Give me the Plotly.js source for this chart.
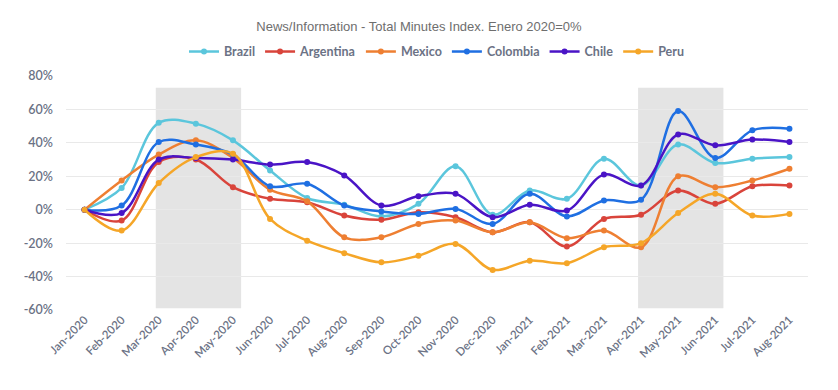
<!DOCTYPE html>
<html>
<head>
<meta charset="utf-8">
<script src="https://cdn.plot.ly/plotly-3.0.1.min.js"></script>
<style>html,body{margin:0;padding:0;background:#fff;}#chart{width:838px;height:390px;}</style>
</head>
<body>
<div id="chart"></div>
<script>
const months = ["Jan-2020","Feb-2020","Mar-2020","Apr-2020","May-2020","Jun-2020","Jul-2020","Aug-2020","Sep-2020","Oct-2020","Nov-2020","Dec-2020","Jan-2021","Feb-2021","Mar-2021","Apr-2021","May-2021","Jun-2021","Jul-2021","Aug-2021"];
const brazil    = [0, 13, 52, 51.5, 41.5, 23.5, 7, 3, -4, 3.5, 26, -3, 11.5, 6.5, 30.5, 14.5, 39, 28, 30.5, 31.5];
const argentina = [0, -6.5, 28.5, 30, 13.5, 6.5, 4.5, -3.5, -6, -1.5, -4.5, -13.5, -7.5, -22, -5.5, -3, 11.5, 3.5, 14, 14.5];
const mexico    = [0, 17.5, 33, 41.5, 31, 12, 5, -16.5, -16.5, -8.5, -6.5, -13.5, -7.5, -17, -12.5, -22.5, 20, 13.5, 17.5, 24.5];
const colombia  = [0, 2.5, 40.5, 39, 33, 14, 15.5, 2.5, -1, -2.5, 0.5, -8.5, 9.5, -4, 5.5, 6, 59, 31, 47.5, 48.5];
const chile     = [0, -2, 30, 31, 30, 27, 28.5, 20.5, 2.5, 8, 9.5, -4.5, 3, -0.5, 21, 14.5, 45, 38.5, 42, 40.5];
const peru      = [0, -12.5, 16, 31.5, 33.5, -5.5, -18.5, -26, -31.5, -27.5, -20.5, -36, -30.5, -32, -22.5, -20, -2, 9.5, -3.5, -2.5];
const yTicks = [-60, -40, -20, 0, 20, 40, 60, 80];
const yTickLabels = ["-60%", "-40%", "-20%", "0%", "20%", "40%", "60%", "80%"];

const seriesList = [
  {name: "Brazil", y: brazil, color: "#5BC6DC"},
  {name: "Argentina", y: argentina, color: "#D9443B"},
  {name: "Mexico", y: mexico, color: "#EE7F32"},
  {name: "Colombia", y: colombia, color: "#1F6FE2"},
  {name: "Chile", y: chile, color: "#4A14C6"},
  {name: "Peru", y: peru, color: "#F5A628"}
];

const traces = seriesList.map(s => ({
  type: "scatter",
  mode: "lines+markers",
  name: s.name,
  x: months,
  y: s.y,
  line: {color: s.color, width: 2.5, shape: "spline", smoothing: 1},
  marker: {color: s.color, size: 6}
}));

function shade(fromCat, toCat) {
  return {
    type: "rect", xref: "x", yref: "y", layer: "below",
    x0: months.indexOf(fromCat) - 0.08, x1: months.indexOf(toCat) + 0.22,
    y0: -59, y1: 73,
    fillcolor: "#E4E4E4", line: {width: 0}
  };
}

const layout = {
  width: 838, height: 390,
  margin: {l: 66, r: 30, t: 76, b: 80},
  paper_bgcolor: "#fff", plot_bgcolor: "#fff",
  font: {family: "Lato, 'Open Sans', sans-serif", color: "#6B7285"},
  title: {
    text: "News/Information - Total Minutes Index. Enero 2020=0%",
    x: 0.5, xanchor: "center", y: 0.932, yanchor: "middle",
    font: {family: "'Liberation Sans', Arial, sans-serif", size: 13, color: "#6E6E6E"}
  },
  showlegend: true,
  legend: {
    orientation: "h", x: 0.5, xanchor: "center", y: 1.103, yanchor: "middle",
    font: {size: 12.5, color: "#6B7285", weight: 700},
    itemwidth: 30, tracegroupgap: 0
  },
  xaxis: {
    type: "category",
    range: [-0.5, 19.5],
    tickangle: -45,
    showgrid: false, zeroline: false, showline: false,
    ticks: "",
    tickfont: {size: 11.5, color: "#6B7285", weight: 600}
  },
  yaxis: {
    range: [-60, 80],
    tickvals: yTicks, ticktext: yTickLabels,
    showgrid: true, gridcolor: "#E9E9E9", gridwidth: 1,
    zeroline: false, showline: false, ticks: "",
    ticklabelstandoff: 12,
    tickfont: {size: 12.5, color: "#6B7285", weight: 600}
  },
  shapes: [shade("Mar-2020", "May-2020"), shade("Apr-2021", "Jun-2021")]
};

Plotly.newPlot("chart", traces, layout, {displayModeBar: false, staticPlot: true});
</script>
</body>
</html>
